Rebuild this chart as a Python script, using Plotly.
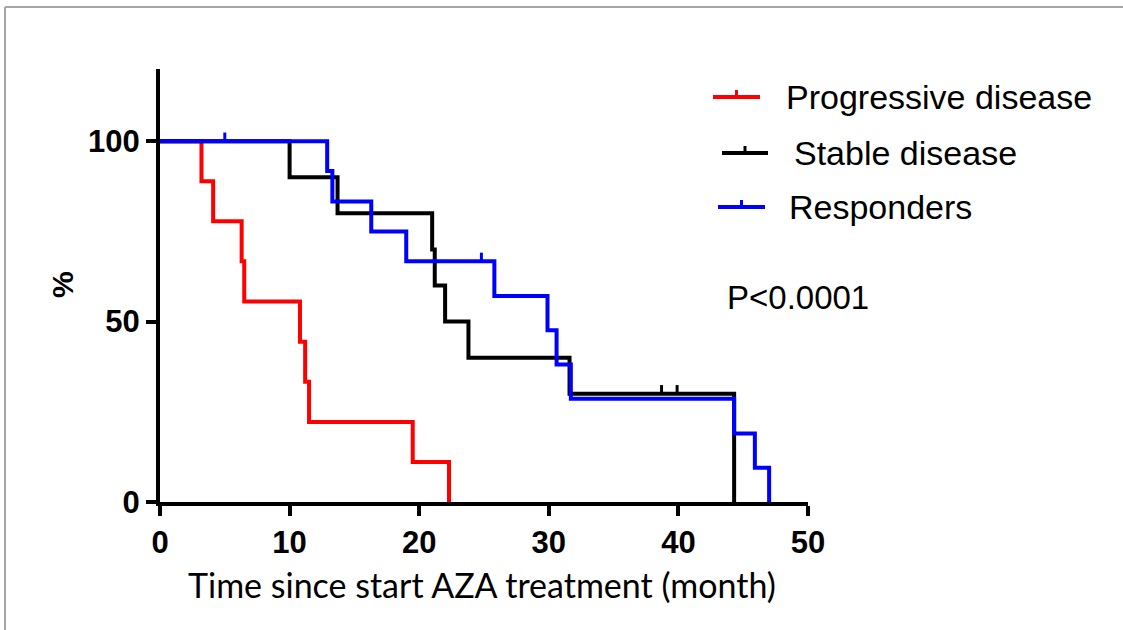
import plotly.graph_objects as go

# Kaplan-Meier step data (time in months, survival in %)
pd_time = [0, 3.2, 4.1, 6.3, 6.5, 10.8, 11.2, 11.5, 19.5, 22.3]
pd_surv = [100, 88.9, 77.8, 66.7, 55.6, 44.4, 33.3, 22.2, 11.1, 0]

sd_time = [0, 10.0, 13.7, 21.0, 21.2, 22.0, 23.8, 31.6, 44.3]
sd_surv = [100, 90, 80, 70, 60, 50, 40, 30, 0]
sd_censor = [38.7, 39.9]

rs_time = [0, 12.9, 13.3, 16.3, 19.0, 25.8, 29.9, 30.6, 31.7, 44.3, 45.9, 47.0]
rs_surv = [100, 91.7, 83.3, 75.0, 66.7, 57.1, 47.6, 38.1, 28.6, 19.0, 9.5, 0]
rs_censor = [5.0, 24.8]

group_names = ["Progressive disease", "Stable disease", "Responders"]
x_ticks = [0, 10, 20, 30, 40, 50]
y_ticks = [0, 50, 100]
p_text = "P<0.0001"

W, H = 1123, 630
L, R, T, B = 160, 315, 69, 128
PW, PH = W - L - R, H - T - B


def px_x(p):
    return (p - L) / PW


def px_y(p):
    return (H - B - p) / PH


def surv_at(times, surv, t):
    s = surv[0]
    for ti, si in zip(times, surv):
        if ti <= t:
            s = si
    return s


def censor_marks(times, surv, cens, up=2.4):
    xs, ys = [], []
    for c in cens:
        s = surv_at(times, surv, c)
        xs += [c, c, None]
        ys += [s, s + up, None]
    return xs, ys


fig = go.Figure()
series = [
    (pd_time, pd_surv, [], "#ff0000"),
    (sd_time, sd_surv, sd_censor, "#000000"),
    (rs_time, rs_surv, rs_censor, "#0000ff"),
]
for (t, s, c, col), name in zip(series, group_names):
    fig.add_trace(go.Scatter(x=t, y=s, mode="lines", line=dict(color=col, width=4, shape="hv"),
                             name=name, showlegend=False, hoverinfo="skip"))
    if c:
        cx, cy = censor_marks(t, s, c)
        fig.add_trace(go.Scatter(x=cx, y=cy, mode="lines", line=dict(color=col, width=3),
                                 showlegend=False, hoverinfo="skip"))

tick_font = dict(family="Liberation Sans, Arial, sans-serif", size=31, color="black", weight="bold")
axis_style = dict(showline=True, linewidth=4, linecolor="black", ticks="outside", ticklen=10,
                  tickwidth=4, tickcolor="black", showgrid=False, zeroline=False, tickfont=tick_font)
fig.update_xaxes(range=[0, 50], tickvals=x_ticks, **axis_style)
fig.update_yaxes(range=[0, 120], tickvals=y_ticks, **axis_style)

shapes = []
annotations = []
# frame lines along top and left edges
shapes.append(dict(type="line", xref="paper", yref="paper", x0=px_x(5), x1=px_x(W), y0=px_y(7), y1=px_y(7),
                   line=dict(color="#a6a6a6", width=2)))
shapes.append(dict(type="line", xref="paper", yref="paper", x0=px_x(5), x1=px_x(5), y0=px_y(7), y1=px_y(H),
                   line=dict(color="#a6a6a6", width=2)))

# legend
legend_rows = [
    (group_names[0], "#ff0000", 713, 760, 97, 784),
    (group_names[1], "#000000", 722, 768, 153, 792),
    (group_names[2], "#0000ff", 718, 765, 207, 787),
]
for name, col, x0, x1, yc, xt in legend_rows:
    shapes.append(dict(type="line", xref="paper", yref="paper", x0=px_x(x0), x1=px_x(x1),
                       y0=px_y(yc), y1=px_y(yc), line=dict(color=col, width=4)))
    xm = (x0 + x1) / 2
    shapes.append(dict(type="line", xref="paper", yref="paper", x0=px_x(xm), x1=px_x(xm),
                       y0=px_y(yc), y1=px_y(yc - 7), line=dict(color=col, width=3)))
    annotations.append(dict(text=name, xref="paper", yref="paper", x=px_x(xt), y=px_y(yc),
                            xanchor="left", yanchor="middle", showarrow=False,
                            font=dict(family="Liberation Sans, Arial, sans-serif", size=34, color="black")))

annotations.append(dict(text=p_text, xref="paper", yref="paper", x=px_x(725), y=px_y(297),
                        xanchor="left", yanchor="middle", showarrow=False,
                        font=dict(family="Liberation Sans, Arial, sans-serif", size=33, color="black")))
annotations.append(dict(text="<b>%</b>", xref="paper", yref="paper", x=px_x(62), y=px_y(285),
                        xanchor="center", yanchor="middle", showarrow=False, textangle=-90,
                        font=dict(family="Liberation Sans, Arial, sans-serif", size=30, color="black")))
annotations.append(dict(text="Time since start AZA treatment (month)", xref="paper", yref="paper",
                        x=px_x(482), y=px_y(584), xanchor="center", yanchor="middle", showarrow=False,
                        font=dict(family="Lato, Carlito, sans-serif", size=34, color="black")))

fig.update_layout(width=W, height=H, margin=dict(l=L, r=R, t=T, b=B, autoexpand=False),
                  paper_bgcolor="white", plot_bgcolor="white", showlegend=False,
                  shapes=shapes, annotations=annotations)

fig.write_html("out.html", config={"displayModeBar": False})
